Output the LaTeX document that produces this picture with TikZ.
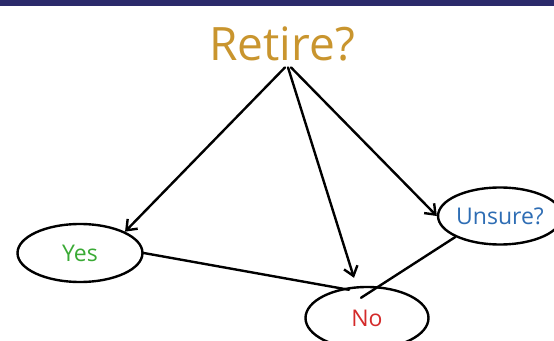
\documentclass[tikz,border=0pt]{standalone}
\usepackage{fontspec}
\setmainfont{Open Sans}
\usepackage{xcolor}
\usetikzlibrary{shapes.geometric, arrows.meta, positioning}
\definecolor{bandnavy}{HTML}{2B2A6B}
\definecolor{retiregold}{HTML}{C9952E}
\definecolor{yesgreen}{HTML}{3AAA35}
\definecolor{nored}{HTML}{D42A2A}
\definecolor{unsureblue}{HTML}{2E6DB4}
\begin{document}
\begin{tikzpicture}[
        x=1pt, y=1pt,
        % Define common styles for nodes
        answer/.style={ellipse, draw, line width=2.4pt, inner sep=0pt, font=\fontsize{23}{26}\selectfont},
        question/.style={inner sep=2pt, text=retiregold, font=\fontsize{46}{50}\selectfont},
        line/.style={draw, line width=2.4pt, line cap=round},
        arrow/.style={draw, line width=2.4pt, line cap=round, -{Straight Barb[length=9pt, width=14pt, line width=2.4pt]}},
    ]

    % Frame and top band
    \useasboundingbox (0,0) rectangle (554,340);
    \fill[white] (0,0) rectangle (554,340);
    \fill[bandnavy] (0,334) rectangle (554,340);

    % Question and answers
    \node (retire) [question] at (282,296) {Retire?};
    \node (yes) [answer, minimum width=125, minimum height=58, text=yesgreen] at (80,87) {Yes};
    \node (no) [answer, minimum width=123, minimum height=62, text=nored] at (367,22) {No};
    \node (unsure) [answer, minimum width=118, minimum height=57, text=unsureblue] at (500,124) {Unsure?};

    % Draw connections/arrows
    \draw[arrow] ([xshift=3pt,yshift=-4pt]retire.south) -- (yes.north east);
    \draw[arrow] ([xshift=6pt,yshift=-4pt]retire.south) -- ([xshift=-13pt,yshift=8pt]no.north);
    \draw[arrow] ([xshift=9pt,yshift=-4pt]retire.south) -- (unsure.west);
    \draw[line] (yes.east) -- ([xshift=-18pt,yshift=-4pt]no.north);
    \draw[line] (unsure.south west) -- ([xshift=-6pt,yshift=-12pt]no.north);

\end{tikzpicture}
\end{document}
